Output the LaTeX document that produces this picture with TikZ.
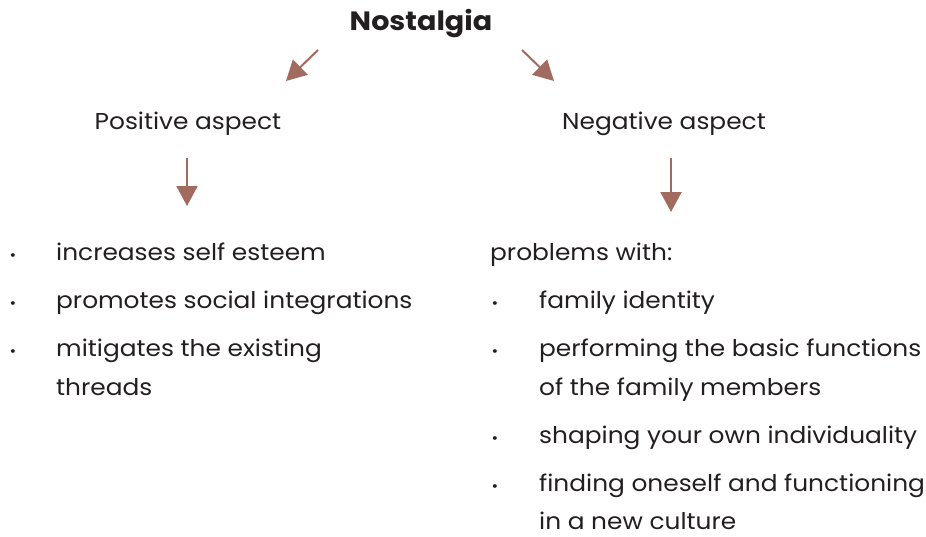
\documentclass[tikz,border=0pt]{standalone}
\usepackage{fontspec}
\setmainfont[FakeStretch=1.08]{Poppins}
\usetikzlibrary{arrows.meta}
\definecolor{arr}{HTML}{A26B5F}
\definecolor{txt}{HTML}{231F20}
\begin{document}
\begin{tikzpicture}[x=1pt,y=-1pt,
  lbl/.style={inner sep=0pt,text=txt,font=\fontsize{23}{27}\selectfont},
  itm/.style={lbl,anchor=mid west},
  bul/.style={lbl,anchor=mid,font=\fontsize{15}{17}\selectfont},
  arrw/.style={draw=arr,line width=2pt,-{Triangle[length=20pt,width=21pt]},shorten >=0pt}]
\useasboundingbox (0,0) rectangle (926,536);
\node[lbl,anchor=mid,font=\fontsize{26.5}{30}\selectfont\bfseries] (n) at (421,28) {Nostalgia};
\node[lbl,anchor=mid] (pos) at (188,127) {Positive aspect};
\node[lbl,anchor=mid] (neg) at (664,127) {Negative aspect};
\coordinate (la1) at (318,50); \coordinate (la2) at (286,81);
\coordinate (ra1) at (522,50); \coordinate (ra2) at (554,81);
\coordinate (ld1) at (187,158); \coordinate (ld2) at (187,206);
\coordinate (rd1) at (671,158); \coordinate (rd2) at (671,212);
\draw[arrw] (la1) -- (la2);
\draw[arrw] (ra1) -- (ra2);
\draw[arrw] (ld1) -- (ld2);
\draw[arrw] (rd1) -- (rd2);
% left list
\node[bul] (b1) at (13,258) {•};
\node[itm] (t1) at (56,258) {increases self esteem};
\node[bul] (b2) at (13,306) {•};
\node[itm] (t2) at (56,306) {promotes social integrations};
\node[bul] (b3) at (13,354) {•};
\node[itm] (t3) at (56,354) {mitigates the existing};
\node[itm] (t3b) at (56,393) {threads};
% right list
\node[itm] (p) at (490,258) {problems with:};
\node[bul] (c1) at (495,306) {•};
\node[itm] (u1) at (539,306) {family identity};
\node[bul] (c2) at (495,354) {•};
\node[itm] (u2) at (539,354) {performing the basic functions};
\node[itm] (u2b) at (539,393) {of the family members};
\node[bul] (c3) at (495,441) {•};
\node[itm] (u3) at (539,441) {shaping your own individuality};
\node[bul] (c4) at (495,489) {•};
\node[itm] (u4) at (539,489) {finding oneself and functioning};
\node[itm] (u4b) at (539,527) {in a new culture};
\end{tikzpicture}
\end{document}
